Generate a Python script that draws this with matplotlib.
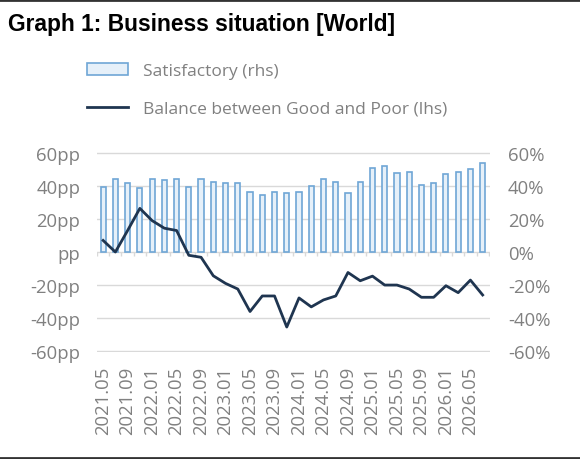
import numpy as np
import matplotlib
matplotlib.use("Agg")
import matplotlib.pyplot as plt
from matplotlib.patches import Patch
from matplotlib.lines import Line2D

# ---- data (bi-monthly, 2021.05 .. 2026.07) ----
months = ["2021.05", "2021.07", "2021.09", "2021.11",
          "2022.01", "2022.03", "2022.05", "2022.07", "2022.09", "2022.11",
          "2023.01", "2023.03", "2023.05", "2023.07", "2023.09", "2023.11",
          "2024.01", "2024.03", "2024.05", "2024.07", "2024.09", "2024.11",
          "2025.01", "2025.03", "2025.05", "2025.07", "2025.09", "2025.11",
          "2026.01", "2026.03", "2026.05", "2026.07"]
satisfactory = [39.6, 44.0, 42.0, 39.0, 44.0, 43.6, 44.4, 39.6, 44.4, 42.4,
                42.0, 42.0, 36.0, 34.6, 36.6, 35.4, 36.6, 40.0, 44.0, 42.6,
                35.4, 42.4, 51.0, 52.0, 48.0, 48.6, 40.8, 42.0, 47.0, 48.4,
                50.4, 53.6]
balance = [7.0, 0.0, 13.0, 26.4, 19.0, 14.4, 13.0, -2.0, -3.2, -14.4,
           -19.0, -22.4, -36.0, -26.6, -26.6, -45.4, -27.8, -33.2, -29.0, -26.6,
           -12.4, -17.4, -14.6, -20.0, -20.0, -22.4, -27.4, -27.4, -20.4, -24.6,
           -17.0, -26.0]
left_ticks = [-60, -40, -20, 0, 20, 40, 60]
left_labels = ["-60pp", "-40pp", "-20pp", "pp", "20pp", "40pp", "60pp"]
right_labels = ["-60%", "-40%", "-20%", "0%", "20%", "40%", "60%"]

BAR_EDGE = "#6FA6D6"
BAR_FILL = "#E6F0F9"
LINE = "#1F3550"
GRID = "#D9D9D9"
TXT = "#808080"

plt.rcParams["font.family"] = ["Open Sans", "DejaVu Sans"]

fig = plt.figure(figsize=(5.8, 4.6), dpi=100)
ax = fig.add_axes([97 / 580, 1 - 353 / 460, (490 - 97) / 580, 200 / 460])
ax2 = ax.twinx()

x = np.arange(len(months))
ax2.bar(x, satisfactory, width=0.42, color=BAR_FILL, edgecolor=BAR_EDGE,
        linewidth=1.2, zorder=2)
ax.plot(x, balance, color=LINE, lw=2.0, zorder=5)
ax.set_zorder(ax2.get_zorder() + 1)
ax.patch.set_visible(False)

for a in (ax, ax2):
    a.set_ylim(-60.5, 60.5)
    a.set_xlim(-0.5, 31.6)
    for s in a.spines.values():
        s.set_visible(False)

ax.set_yticks(left_ticks)
ax.set_yticklabels(left_labels)
ax2.set_yticks(left_ticks)
ax2.set_yticklabels(right_labels)
ax.tick_params(axis="y", length=0, pad=12, labelsize=13.3, labelcolor=TXT)
ax2.tick_params(axis="y", length=0, pad=13, labelsize=13.3, labelcolor=TXT)
for yv in left_ticks:
    ax2.axhline(yv, color=GRID, lw=1.0, zorder=0)
# category ticks on the zero line
ax2.vlines(np.arange(len(months) + 1) - 0.5, -2.5, 0, color=GRID, lw=1.0, zorder=1)

ax.set_xticks(x[::2])
ax.set_xticklabels(months[::2], rotation=90)
ax.tick_params(axis="x", length=0, pad=10, labelsize=13.3, labelcolor=TXT)

handles = [Patch(facecolor=BAR_FILL, edgecolor=BAR_EDGE, linewidth=1.2),
           Line2D([], [], color=LINE, lw=2.0)]
fig.legend(handles, ["Satisfactory (rhs)", "Balance between Good and Poor (lhs)"],
           loc="upper left", bbox_to_anchor=(71 / 580, 1 - 48 / 460),
           frameon=False, fontsize=12.5, labelcolor=TXT, handlelength=2.4,
           handletextpad=0.85, labelspacing=1.25)

fig.text(8 / 580, 1 - 31 / 460, "Graph 1: Business situation [World]",
         fontsize=16.4, fontweight="bold", family=["Liberation Sans", "DejaVu Sans"],
         color="black", va="baseline")

fig.add_artist(Line2D([0, 1], [0.998, 0.998], color="#333333", lw=2.0))
fig.add_artist(Line2D([0, 1], [0.003, 0.003], color="#333333", lw=2.0))

fig.savefig("out.png", dpi=100)
